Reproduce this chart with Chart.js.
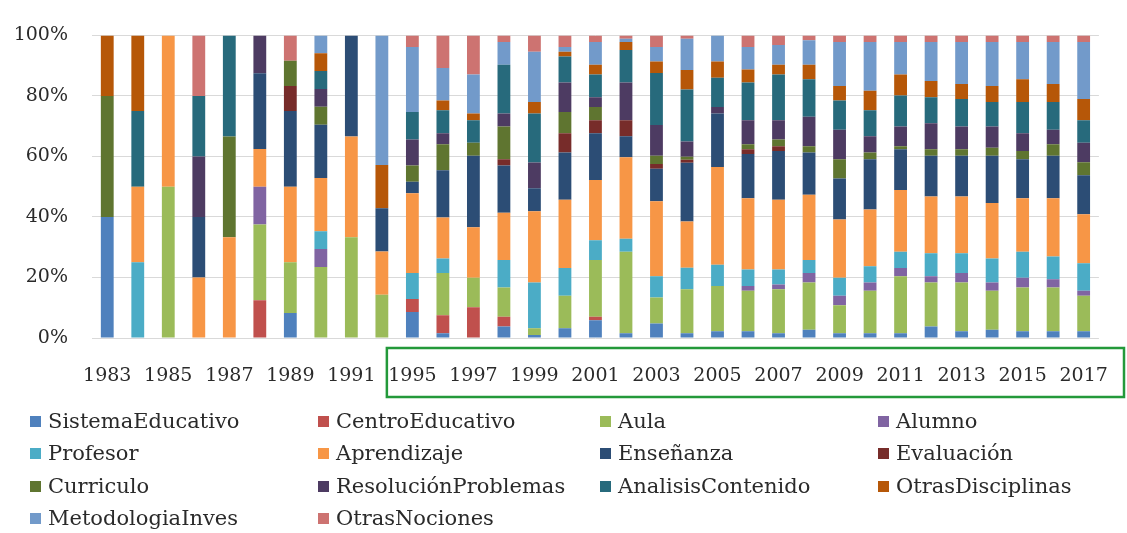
<!DOCTYPE html>
<html>
<head>
<meta charset="utf-8">
<script src="https://cdn.jsdelivr.net/npm/chart.js@4/dist/chart.umd.min.js"></script>
<style>
  body { margin: 0; background: #fff; }
  #wrap { position: relative; width: 1127px; height: 533px; }
  #legend { position: absolute; left: 0; top: 0; width: 1127px; height: 533px; pointer-events: none;
    font-family: "DejaVu Serif", serif; font-size: 21px; color: #2a2a2a; }
  .item { position: absolute; white-space: nowrap; line-height: 24px; }
  .box { display: inline-block; width: 11px; height: 11px; margin-right: 7px; vertical-align: 1px; }
</style>
</head>
<body>
<div id="wrap">
  <canvas id="myChart" width="1127" height="400"></canvas>
  <div id="legend"></div>
</div>
<script>
'use strict';
// categories (1992 and 1994 have no bar)
var years = ['1983', '1984', '1985', '1986', '1987', '1988', '1989', '1990', '1991', '1993',
  '1995', '1996', '1997', '1998', '1999', '2000', '2001', '2002', '2003', '2004',
  '2005', '2006', '2007', '2008', '2009', '2010', '2011', '2012', '2013', '2014',
  '2015', '2016', '2017'];

var yTicks = ['0%', '20%', '40%', '60%', '80%', '100%'];

var seriesNames = ['SistemaEducativo', 'CentroEducativo', 'Aula', 'Alumno', 'Profesor', 'Aprendizaje',
  'Enseñanza', 'Evaluación', 'Curriculo', 'ResoluciónProblemas', 'AnalisisContenido',
  'OtrasDisciplinas', 'MetodologiaInves', 'OtrasNociones'];

// percentages per year
var sistemaEducativo = [40, 0, 0, 0, 0, 0, 8.3, 0, 0, 0, 8.6, 1.6, 0, 3.8, 1, 3.2, 5.9, 1.6, 4.8, 1.6, 2.2, 2.2, 1.6, 2.7, 1.6, 1.6, 1.6, 3.8, 2.2, 2.7, 2.2, 2.2, 2.2];
var centroEducativo = [0, 0, 0, 0, 0, 12.5, 0, 0, 0, 0, 4.3, 5.9, 10.2, 3.2, 0, 0, 1.1, 0, 0, 0, 0, 0, 0, 0, 0, 0, 0, 0, 0, 0, 0, 0, 0];
var aula = [0, 0, 50, 0, 0, 25, 16.7, 23.5, 33.3, 14.3, 0, 14, 9.7, 9.7, 2.2, 10.8, 18.8, 26.9, 8.6, 14.5, 15, 13.4, 14.5, 15.6, 9.2, 14, 18.8, 14.5, 16.1, 12.9, 14.5, 14.5, 11.8];
var alumno = [0, 0, 0, 0, 0, 12.5, 0, 5.9, 0, 0, 0, 0, 0, 0, 0, 0, 0, 0, 0, 0, 0, 1.6, 1.6, 3.2, 3.2, 2.7, 2.7, 2.1, 3.2, 2.7, 3.2, 2.7, 1.6];
var profesor = [0, 25, 0, 0, 0, 0, 0, 5.9, 0, 0, 8.6, 4.8, 0, 9.1, 15.1, 9.1, 6.5, 4.3, 7, 7.1, 7, 5.4, 4.9, 4.3, 5.9, 5.4, 5.4, 7.6, 6.5, 8, 8.6, 7.5, 9.1];
var aprendizaje = [0, 25, 50, 20, 33.3, 12.5, 25, 17.6, 33.3, 14.3, 26.3, 13.5, 16.7, 15.6, 23.6, 22.6, 19.9, 26.9, 24.8, 15.3, 32.3, 23.6, 23.1, 21.5, 19.3, 18.8, 20.4, 18.8, 18.8, 18.3, 17.7, 19.3, 16.2];
var ensenanza = [0, 0, 0, 20, 0, 25, 25, 17.6, 33.4, 14.3, 3.8, 15.6, 23.6, 15.6, 7.6, 15.6, 15.5, 7, 10.7, 19.4, 17.7, 14.6, 16.1, 14, 13.5, 16.6, 13.5, 13.4, 13.4, 15.6, 12.9, 14, 12.9];
var evaluacion = [0, 0, 0, 0, 0, 0, 8.3, 0, 0, 0, 0, 0, 0, 2.1, 0, 6.4, 4.3, 5.3, 1.6, 1, 0, 1.6, 1.6, 0, 0, 0, 0, 0, 0, 0, 0, 0, 0];
var curriculo = [40, 0, 0, 0, 33.3, 0, 8.3, 5.9, 0, 0, 5.4, 8.6, 4.3, 10.8, 0, 7, 4.3, 0, 2.7, 1, 0, 1.6, 2.2, 2.1, 6.4, 2.2, 1, 2.2, 2.2, 2.7, 2.7, 3.8, 4.3];
var resolucionProblemas = [0, 0, 0, 20, 0, 12.5, 0, 5.9, 0, 0, 8.6, 3.7, 0, 4.3, 8.5, 9.7, 3.3, 12.4, 10.2, 5, 2.1, 8, 6.4, 9.7, 9.7, 5.4, 6.5, 8.6, 7.5, 7, 5.9, 4.8, 6.4];
var analisisContenido = [0, 25, 0, 20, 33.4, 0, 0, 5.9, 0, 0, 9.1, 7.6, 7.5, 16.1, 16.2, 8.6, 7.5, 10.8, 17.2, 17.2, 9.7, 12.4, 15.1, 12.4, 9.7, 8.6, 10.2, 8.6, 9.1, 8.1, 10.3, 9.2, 7.5];
var otrasDisciplinas = [20, 25, 0, 0, 0, 0, 0, 5.9, 0, 14.3, 0, 3.2, 2.2, 0, 3.8, 1.6, 3.2, 2.6, 3.8, 6.5, 5.4, 4.3, 3.2, 4.8, 4.8, 6.4, 7, 5.3, 4.9, 5.3, 7.5, 5.9, 7];
var metodologiaInves = [0, 0, 0, 0, 0, 0, 0, 5.9, 0, 42.8, 21.5, 10.7, 12.9, 7.5, 16.6, 1.6, 7.5, 1.1, 4.8, 10.3, 8.6, 7.5, 6.5, 8.1, 14.5, 16.1, 10.7, 12.9, 13.9, 14.5, 12.3, 13.9, 18.8];
var otrasNociones = [0, 0, 0, 20, 0, 0, 8.4, 0, 0, 0, 3.8, 10.8, 12.9, 2.2, 5.4, 3.8, 2.2, 1.1, 3.8, 1.1, 0, 3.8, 3.2, 1.6, 2.2, 2.2, 2.2, 2.2, 2.2, 2.2, 2.2, 2.2, 2.2];

var allSeries = [sistemaEducativo, centroEducativo, aula, alumno, profesor, aprendizaje, ensenanza,
  evaluacion, curriculo, resolucionProblemas, analisisContenido, otrasDisciplinas, metodologiaInves, otrasNociones];

var colors = ['#4F81BD', '#C0504D', '#9BBB59', '#8064A2', '#4BACC6', '#F79646', '#2C4D75',
  '#772C2A', '#5F7530', '#4D3B62', '#276A7C', '#B65708', '#729ACA', '#CD7371'];

var datasets = [];
for (var i = 0; i < seriesNames.length; i++) {
  datasets.push({
    label: seriesNames[i],
    data: allSeries[i],
    backgroundColor: colors[i],
    borderWidth: 0,
    barPercentage: 0.42,
    categoryPercentage: 1
  });
}

// green box round the 1995-2017 labels
var boxPlugin = {
  id: 'labelBox',
  afterDraw: function (chart) {
    var ctx = chart.ctx;
    var x = chart.scales.x;
    var y = chart.scales.y;
    var left = x.getPixelForValue(9) + 5;
    ctx.save();
    ctx.strokeStyle = '#23993a';
    ctx.lineWidth = 2.5;
    ctx.strokeRect(left, y.bottom + 10, chart.width - 3 - left, chart.height - 3 - (y.bottom + 10));
    ctx.restore();
  }
};

var tickFont = { family: '"DejaVu Serif", serif', size: 19 };

var ctx = document.getElementById('myChart').getContext('2d');
var chart = new Chart(ctx, {
  type: 'bar',
  data: { labels: years, datasets: datasets },
  plugins: [boxPlugin],
  options: {
    responsive: false,
    animation: false,
    layout: { padding: { left: 0, right: 11, top: 29, bottom: 0 } },
    plugins: { legend: { display: false }, tooltip: { enabled: false } },
    scales: {
      x: {
        stacked: true,
        grid: { display: false },
        border: { display: false },
        ticks: {
          autoSkip: false, maxRotation: 0, color: '#2a2a2a', font: tickFont, padding: 19,
          callback: function (val, idx) { return idx % 2 === 0 ? years[idx] : ''; }
        },
        afterFit: function (axis) { axis.height = 62; }
      },
      y: {
        stacked: true,
        min: 0,
        max: 100,
        grid: { color: '#d9d9d9', drawTicks: false },
        border: { display: false },
        ticks: {
          stepSize: 20, color: '#2a2a2a', font: tickFont, padding: 24,
          callback: function (val) { return yTicks[val / 20]; }
        },
        afterFit: function (axis) { axis.width = 92; }
      }
    }
  }
});

// legend in four columns like the picture
var legendElem = document.getElementById('legend');
var colLeft = [30, 318, 600, 878];
var rowMid = [421, 453, 486, 518];
for (var j = 0; j < seriesNames.length; j++) {
  var item = document.createElement('div');
  item.className = 'item';
  item.style.left = colLeft[j % 4] + 'px';
  item.style.top = (rowMid[Math.floor(j / 4)] - 12) + 'px';
  var box = document.createElement('span');
  box.className = 'box';
  box.style.background = colors[j];
  item.appendChild(box);
  item.appendChild(document.createTextNode(seriesNames[j]));
  legendElem.appendChild(item);
}
</script>
</body>
</html>
